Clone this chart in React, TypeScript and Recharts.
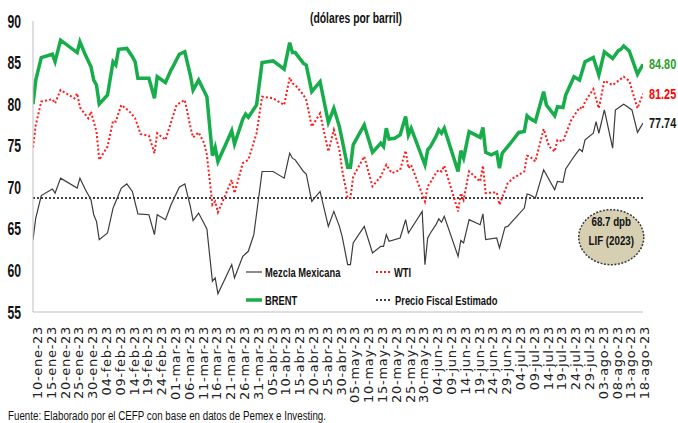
import React from 'react';
import { LineChart, Line, XAxis, YAxis, ReferenceLine, ReferenceDot, Legend } from 'recharts';

// ---- data (x = days since 10-ene-23) ----
const brentDays = [-1,0,2,6,7,9,15,16,18,20,21,22,23,26,28,29,30,33,35,36,37,41,43,44,47,49,50,52,54,56,57,59,62,64,65,66,69,71,72,75,76,77,80,82,86,90,92,93,94,97,98,100,103,106,108,110,111,113,114,115,119,122,125,126,127,128,130,132,134,135,136,141,142,143,145,146,147,148,153,154,155,157,161,162,163,165,167,168,169,172,175,177,178,179,181,184,185,188,189,191,192,195,197,199,202,204,206,209,211,212,213,215,218,220];
const brentValues = [80.0,82.9,85.6,86.0,85.1,87.7,86.2,87.5,85.9,84.5,82.9,82.3,80.0,81.1,85.1,84.7,86.6,86.7,85.7,85.1,83.1,83.1,80.7,83.3,82.6,84.1,84.7,86.0,86.3,83.5,81.7,82.9,80.9,73.8,74.8,73.1,75.3,76.8,75.2,78.2,78.8,78.4,79.9,85.0,85.2,84.2,87.4,86.2,86.2,84.9,84.7,81.5,82.7,77.8,79.5,77.3,75.7,72.4,72.4,75.1,77.5,74.2,75.3,74.9,77.1,75.8,75.9,76.3,78.5,76.3,77.1,72.7,74.5,74.9,76.1,76.9,76.5,77.1,71.9,74.4,73.5,76.7,76.0,77.2,74.2,73.9,74.2,72.3,74.1,75.3,76.6,76.7,78.6,78.3,77.9,81.5,79.9,78.6,79.7,79.6,81.1,83.3,82.9,85.1,85.6,83.5,86.3,85.5,86.4,86.6,87.0,86.4,83.6,84.8];

const wtiDays = [-1,0,2,6,7,9,14,15,16,19,20,22,23,26,28,29,31,34,36,38,41,43,44,47,51,54,56,57,59,61,62,64,65,66,69,71,72,75,77,80,82,86,90,92,93,94,97,98,100,103,106,108,110,111,113,114,115,119,122,125,127,129,132,134,135,136,141,142,143,145,146,147,148,153,154,155,157,161,162,163,167,168,171,173,177,178,179,181,184,186,188,189,191,194,197,198,199,202,204,206,209,211,213,215,218,220];
const wtiValues = [74.8,77.5,80.3,80.6,80.1,81.7,80.7,81.3,79.6,78.3,79.1,76.7,73.3,74.9,78.0,77.9,79.9,79.1,78.3,76.4,76.2,74.1,76.5,75.7,79.9,80.5,77.3,76.0,76.6,75.3,73.9,67.9,68.3,67.0,69.3,70.9,69.3,72.9,73.3,76.5,80.9,80.7,79.9,83.2,82.5,82.3,81.1,80.5,77.3,78.9,74.3,76.9,74.5,72.1,68.7,68.7,71.3,73.7,70.1,71.3,72.7,71.7,72.1,74.4,72.3,72.7,68.3,70.1,70.6,71.7,72.1,71.9,72.6,67.1,69.3,68.5,71.9,70.7,72.6,69.3,69.4,67.9,70.5,71.1,71.9,73.8,73.7,73.1,77.0,74.9,74.3,75.7,75.5,78.1,79.6,79.4,80.3,81.8,79.5,82.8,82.3,82.8,83.3,82.8,79.5,81.25];

const mezclaDays = [-1,0,2,6,7,9,15,16,18,20,21,22,23,26,28,29,31,33,35,37,41,43,44,47,49,52,54,56,57,59,62,64,65,66,69,71,72,75,77,79,82,86,90,92,93,94,97,98,100,103,106,108,110,111,113,114,115,119,122,125,126,127,128,132,134,135,140,141,142,143,145,146,147,148,153,154,155,157,161,162,163,167,168,170,171,177,178,179,181,184,188,189,191,192,195,197,198,199,202,203,204,206,209,210,213,216,218,220];
const mezclaValues = [63.7,66.3,69.0,69.8,69.3,71.1,69.9,71.1,69.7,68.5,66.7,65.9,63.7,64.5,67.5,68.3,69.9,70.4,69.5,66.8,66.7,64.3,66.7,66.1,67.9,70.0,70.4,67.7,66.0,66.9,65.0,58.7,59.1,57.2,59.3,60.7,59.1,61.7,62.3,64.3,71.9,71.9,71.1,74.1,73.5,73.3,71.9,71.6,68.3,69.5,65.3,67.1,65.3,64.1,60.7,60.7,63.3,65.3,62.1,62.9,62.9,64.3,63.5,63.9,66.1,64.5,67.1,60.7,63.9,64.5,65.5,66.2,65.8,66.5,61.7,63.6,63.3,66.1,65.5,66.8,63.7,63.9,62.7,65.2,65.3,67.5,69.2,69.1,68.7,72.1,69.7,70.7,70.6,72.2,73.7,74.6,74.3,75.7,76.5,77.9,76.5,79.3,74.7,79.3,80.0,79.3,76.6,77.74];

const fiscalPrice = 68.7;
const lifDay = 208.5;
const lifValue = 64.0;

const tickDays = [0,5,10,15,20,25,30,35,40,45,50,55,60,65,70,75,80,85,90,95,100,105,110,115,120,125,130,135,140,145,150,155,160,165,170,175,180,185,190,195,200,205,210,215,220];
const tickLabels = ["10-ene-23","15-ene-23","20-ene-23","25-ene-23","30-ene-23","04-feb-23","09-feb-23","14-feb-23","19-feb-23","24-feb-23","01-mar-23","06-mar-23","11-mar-23","16-mar-23","21-mar-23","26-mar-23","31-mar-23","05-abr-23","10-abr-23","15-abr-23","20-abr-23","25-abr-23","30-abr-23","05-may-23","10-may-23","15-may-23","20-may-23","25-may-23","30-may-23","04-jun-23","09-jun-23","14-jun-23","19-jun-23","24-jun-23","29-jun-23","04-jul-23","09-jul-23","14-jul-23","19-jul-23","24-jul-23","29-jul-23","03-ago-23","08-ago-23","13-ago-23","18-ago-23"];
const yTicks = [55,60,65,70,75,80,85,90];

const seriesNames = ['Mezcla Mexicana', 'WTI', 'BRENT', 'Precio Fiscal Estimado'];
const endLabelTexts = ['77.74', '81.25', '84.80'];

const toPoints = (days: number[], values: number[]) => days.map((d, i) => ({ day: d, v: values[i] }));
const brentData = toPoints(brentDays, brentValues);
const wtiData = toPoints(wtiDays, wtiValues);
const mezclaData = toPoints(mezclaDays, mezclaValues);

const FONT = "'Liberation Sans', Arial, sans-serif";
const GREEN = '#17ad4b';
const RED = '#ff1a1a';
const DARK = '#3c3c3c';

function CText({ x, y, size, sx, anchor = 'start', fill = '#111', weight = 'bold', children }: any) {
  return (
    <text transform={`translate(${x},${y}) scale(${sx},1)`} x={0} y={0} fontSize={size} fontWeight={weight}
      fill={fill} textAnchor={anchor} fontFamily={FONT}>{children}</text>
  );
}

const YTick = (p: any) => (
  <CText x={21} y={p.y + 6.6} size={18.5} sx={0.66} anchor="end" fill="#111">{p.payload.value}</CText>
);

const XTick = (p: any) => {
  const i = tickDays.indexOf(p.payload.value);
  return (
    <text transform={`translate(${p.x + 1.5},326) rotate(-90)`} textAnchor="end" dy="0.36em"
      fontFamily="'DejaVu Sans', sans-serif" fontSize={13} letterSpacing={0.7} fill="#222">{tickLabels[i]}</text>
  );
};

const endLabel = (last: number, text: string, color: string) => (p: any) =>
  p.index === last ? (
    <CText key="end" x={p.x + 6} y={p.y + 5.2} size={14.5} sx={0.75} fill={color}>{text}</CText>
  ) : null;

const LifBadge = (p: any) => (
  <g>
    <ellipse cx={p.cx} cy={p.cy} rx={32.5} ry={27.5} fill="#d6cfb2" stroke="#3a3a3a" strokeWidth={1.5} strokeDasharray="2 1.5" />
    <CText x={p.cx} y={p.cy - 11.5} size={13} sx={0.75} anchor="middle" fill="#111">68.7 dpb</CText>
    <CText x={p.cx} y={p.cy + 7.5} size={13} sx={0.75} anchor="middle" fill="#111">LIF (2023)</CText>
  </g>
);

const LegendBox = () => (
  <svg width={270} height={50} style={{ display: 'block' }}>
    <line x1={6} y1={12} x2={22} y2={12} stroke={DARK} strokeWidth={1.2} />
    <CText x={25} y={16.5} size={12.5} sx={0.75}>{seriesNames[0]}</CText>
    <line x1={136} y1={12} x2={152} y2={12} stroke={RED} strokeWidth={2} strokeDasharray="2 2" />
    <CText x={154} y={16.5} size={12.5} sx={0.75}>{seriesNames[1]}</CText>
    <line x1={6} y1={40} x2={22} y2={40} stroke={GREEN} strokeWidth={3.5} />
    <CText x={25} y={44.5} size={12.5} sx={0.75}>{seriesNames[2]}</CText>
    <line x1={136} y1={40} x2={152} y2={40} stroke="#404040" strokeWidth={2} strokeDasharray="2 2" />
    <CText x={155} y={44.5} size={12.5} sx={0.75}>{seriesNames[3]}</CText>
  </svg>
);

export default function App() {
  return (
    <div style={{ position: 'absolute', left: 0, top: 0, width: 678, height: 423, background: '#fff' }}>
      <LineChart width={678} height={423} margin={{ top: 21, right: 35, bottom: 0, left: 0 }}>
        <XAxis dataKey="day" type="number" domain={[-1, 220]} ticks={tickDays} interval={0} tick={XTick}
          tickLine={false} axisLine={{ stroke: '#bfbfbf' }} height={111} allowDataOverflow />
        <YAxis type="number" domain={[55, 90]} ticks={yTicks} interval={0} width={33} tick={YTick}
          tickLine={false} axisLine={{ stroke: '#bfbfbf' }} allowDataOverflow />
        <ReferenceLine y={fiscalPrice} stroke="#404040" strokeWidth={2} strokeDasharray="2 2" />
        <Line data={mezclaData} dataKey="v" type="linear" stroke={DARK} strokeWidth={1.2} dot={false}
          isAnimationActive={false} label={endLabel(mezclaData.length - 1, endLabelTexts[0], '#1a1a1a')} />
        <Line data={wtiData} dataKey="v" type="linear" stroke={RED} strokeWidth={2} strokeDasharray="2 2.2" dot={false}
          isAnimationActive={false} label={endLabel(wtiData.length - 1, endLabelTexts[1], '#ff0000')} />
        <Line data={brentData} dataKey="v" type="linear" stroke={GREEN} strokeWidth={3.5} dot={false}
          isAnimationActive={false} label={endLabel(brentData.length - 1, endLabelTexts[2], '#2e9e2e')} />
        <ReferenceDot x={lifDay} y={lifValue} r={30} shape={LifBadge} />
        <Legend layout="vertical" align="center" verticalAlign="middle" content={LegendBox}
          wrapperStyle={{ position: 'absolute', left: 240, top: 260, width: 270, height: 50 }} />
      </LineChart>
      <svg width={678} height={423} style={{ position: 'absolute', left: 0, top: 0, pointerEvents: 'none' }}>
        <CText x={356} y={23} size={14} sx={0.74} anchor="middle" fill="#111">(dólares por barril)</CText>
        <text x={8} y={420} fontSize={12} fontFamily={FONT} fill="#111" textLength={318} lengthAdjust="spacingAndGlyphs">
          Fuente: Elaborado por el CEFP con base en datos de Pemex e Investing.
        </text>
      </svg>
    </div>
  );
}
